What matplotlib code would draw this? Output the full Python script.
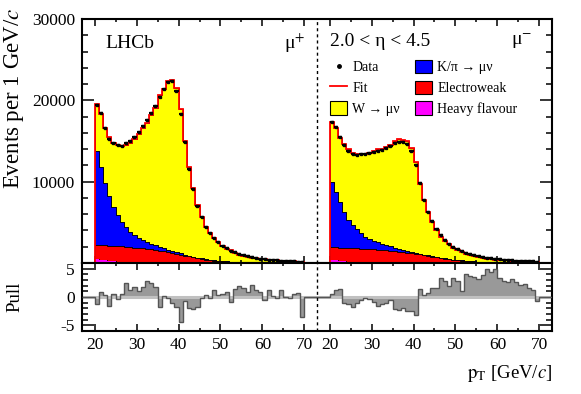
import numpy as np
import matplotlib
matplotlib.use("Agg")
import matplotlib.pyplot as plt
from matplotlib.patches import Patch
from matplotlib.lines import Line2D
from matplotlib.ticker import FixedLocator, FixedFormatter, MultipleLocator

plt.rcParams['font.family'] = ['Liberation Serif', 'DejaVu Serif']
plt.rcParams['mathtext.fontset'] = 'stix'

# pT bins 20..70 GeV/c, 1 GeV wide, for mu+ (left) and mu- (right)
edges = np.arange(20, 71)
offset = 56  # the mu- half is drawn shifted to the right

# ---- mu+ ----
data_p = [19400, 18400, 16600, 15250, 14800, 14450, 14400, 14800, 14950, 15450,
          16050, 16850, 17550, 18500, 19350, 20450, 21450, 22300, 22350, 21200,
          18300, 14900, 11600, 9050, 6950, 5600, 4450, 3650, 3100, 2600,
          2100, 1800, 1520, 1300, 1110, 950, 820, 710, 620, 540,
          470, 415, 365, 320, 285, 250, 225, 200, 180, 130]
w_p = [5780, 6430, 6750, 7250, 7830, 8600, 9250, 10060, 10950, 11780,
       12870, 13810, 14620, 15820, 16930, 18730, 19630, 20680, 21030, 20140,
       17720, 13950, 10910, 8490, 6440, 5060, 3950, 3270, 2710, 2320,
       1850, 1570, 1395, 1112, 929, 800, 706, 576, 522, 459,
       426, 342, 319, 284, 229, 218, 199, 166, 146, 148]
kpi_p = [11550, 9630, 7610, 6050, 4790, 3830, 3050, 2460, 1900, 1540,
         1200, 1000, 820, 680, 560, 460, 370, 300, 240, 190,
         150, 120, 95, 75, 60, 48, 38, 30, 24, 19,
         15, 12, 10, 8, 6, 5, 4, 4, 3, 3,
         3, 2, 2, 2, 2, 1, 1, 1, 1, 1]
ew_p = [1750, 1800, 1850, 1880, 1910, 1930, 1940, 1940, 1930, 1900,
        1850, 1800, 1740, 1670, 1600, 1520, 1440, 1350, 1250, 1140,
        1030, 920, 810, 700, 600, 510, 430, 360, 300, 250,
        210, 180, 150, 130, 110, 95, 85, 75, 65, 58,
        52, 47, 42, 38, 34, 31, 28, 25, 23, 21]
hf_p = [500, 420, 340, 270, 200, 140, 90, 50, 20, 0,
        0, 0, 0, 0, 0, 0, 0, 0, 0, 0,
        0, 0, 0, 0, 0, 0, 0, 0, 0, 0,
        0, 0, 0, 0, 0, 0, 0, 0, 0, 0,
        0, 0, 0, 0, 0, 0, 0, 0, 0, 0]
pull_p = [-1.3, 0.9, 0.4, -1.6, 0.55, -0.4, 0.55, 2.4, 1.2, 1.85,
          1.05, 1.85, 2.8, 2.4, 1.85, -1.85, 0.1, -0.2, -1.1, -1.85,
          -4.4, -0.7, -2.0, -2.2, -1.85, -0.2, 0.4, -0.2, 1.2, 0.3,
          0.55, 0.9, -0.9, 1.35, 2.0, 1.55, 0.9, 2.1, 1.2, 0.9,
          -0.5, 1.2, 0.1, -0.2, 1.2, 0.0, -0.2, 0.55, 0.75, -3.5]

# ---- mu- ----
data_m = [17380, 16770, 15540, 14510, 13810, 13370, 13280, 13370, 13400, 13490,
          13620, 13780, 13900, 14180, 14430, 14720, 14920, 14920, 14640, 13810,
          12050, 9880, 7750, 6310, 5200, 4140, 3440, 2850, 2380, 2000,
          1700, 1450, 1250, 1080, 940, 820, 720, 640, 570, 510,
          455, 410, 370, 335, 300, 270, 245, 220, 200, 170]
w_m = [7310, 7840, 7830, 8330, 8670, 8900, 9260, 9780, 10180, 10590,
       10970, 11440, 11700, 12110, 12450, 13090, 13450, 13530, 13440, 12710,
       11120, 8600, 6675, 5318, 4252, 3297, 2590, 2136, 1791, 1425,
       1218, 1100, 847, 739, 645, 576, 489, 409, 370, 316,
       314, 290, 266, 228, 210, 196, 173, 163, 154, 153]
kpi_m = [8070, 6860, 5650, 4440, 3440, 2850, 2350, 1890, 1510, 1240,
         1050, 880, 740, 620, 520, 430, 350, 280, 220, 170,
         130, 100, 80, 62, 48, 38, 30, 24, 19, 15,
         12, 10, 8, 6, 5, 4, 4, 3, 3, 3,
         2, 2, 2, 2, 2, 1, 1, 1, 1, 1]
ew_m = [1530, 1580, 1630, 1670, 1710, 1730, 1740, 1740, 1730, 1710,
        1690, 1650, 1610, 1570, 1520, 1470, 1410, 1350, 1280, 1210,
        1140, 1050, 960, 870, 780, 700, 620, 540, 470, 410,
        350, 300, 255, 215, 180, 150, 125, 105, 90, 78,
        68, 60, 53, 47, 42, 38, 34, 31, 28, 25]
hf_m = [400, 330, 260, 200, 140, 90, 50, 20, 0, 0,
        0, 0, 0, 0, 0, 0, 0, 0, 0, 0,
        0, 0, 0, 0, 0, 0, 0, 0, 0, 0,
        0, 0, 0, 0, 0, 0, 0, 0, 0, 0,
        0, 0, 0, 0, 0, 0, 0, 0, 0, 0]
pull_m = [0.55, 1.2, 1.35, -1.1, -1.3, -1.7, -1.0, -0.5, -0.2, -0.4,
          -0.8, -1.6, -1.3, -1.0, -0.5, -2.2, -2.35, -2.0, -2.5, -2.4,
          -3.1, 1.35, 0.4, 0.75, 1.65, 1.65, 3.4, 2.8, 2.0, 3.4,
          2.9, 1.05, 4.0, 3.7, 3.6, 3.2, 3.8, 4.9, 4.45, 4.9,
          3.4, 2.9, 2.6, 3.2, 2.7, 2.2, 2.3, 1.65, 1.2, -0.7]

tick_vals = [20, 30, 40, 50, 60, 70]
xlo, xhi = 17, 129

W, H = 581, 394
def box(l, t, r, b):
    return [l / W, 1 - b / H, (r - l) / W, (b - t) / H]

fig = plt.figure(figsize=(W / 100, H / 100), dpi=100)
ax = fig.add_axes(box(82, 19, 552, 263))
axp = fig.add_axes(box(82, 263, 552, 331), sharex=ax)

fits = []
for sh, w, kpi, ew, hf, d in [(0, w_p, kpi_p, ew_p, hf_p, data_p),
                              (offset, w_m, kpi_m, ew_m, hf_m, data_m)]:
    e = edges + sh
    c1 = np.array(hf, float)
    c2 = c1 + ew
    c3 = c2 + kpi
    c4 = c3 + w
    ax.stairs(c4, e, baseline=c3, fill=True, facecolor='#ffff00', edgecolor='k', lw=0.6, zorder=1)
    ax.stairs(c3, e, baseline=c2, fill=True, facecolor='#0000ff', edgecolor='k', lw=0.6, zorder=2)
    ax.stairs(c2, e, baseline=c1, fill=True, facecolor='#ff0000', edgecolor='k', lw=0.6, zorder=3)
    ax.stairs(c1, e, baseline=0, fill=True, facecolor='#ff00ff', edgecolor='none', zorder=4)
    fits.append(c4)
    ax.errorbar(e[:-1] + 0.5, d, xerr=0.5, fmt='s', ms=1.8, color='k',
                elinewidth=1.6, capsize=0, zorder=6)

# fit line over the full axis, zero outside the fitted ranges
all_edges = np.concatenate([[xlo], edges, edges + offset, [xhi]])
fit_all = np.concatenate([[0], fits[0], [0], fits[1], [0]])
ax.stairs(fit_all, all_edges, color='#ff0000', lw=1.3, zorder=5)

# pulls
pull_all = np.concatenate([[0], pull_p, [0], pull_m, [0]])
axp.axhline(0, color='#c0c0c0', lw=2.2, zorder=2)
axp.stairs(pull_p, edges, baseline=0, fill=True, facecolor='#999999', edgecolor='none', zorder=1)
axp.stairs(pull_m, edges + offset, baseline=0, fill=True, facecolor='#999999', edgecolor='none', zorder=1)
axp.stairs(pull_all, all_edges, color='#555555', lw=1.0, zorder=3)

for a in (ax, axp):
    a.axvline(73, color='k', ls=(0, (2.2, 2.2)), lw=1.0, zorder=7)
    a.set_xlim(xlo, xhi)
    for s in a.spines.values():
        s.set_linewidth(1.5)

major_x = tick_vals + [v + offset for v in tick_vals]
minor_x = [v + 5 for v in tick_vals[:-1]] + [v + 5 + offset for v in tick_vals[:-1]]
ax.xaxis.set_major_locator(FixedLocator(major_x))
ax.xaxis.set_minor_locator(FixedLocator(minor_x))
axp.xaxis.set_major_formatter(FixedFormatter([str(v) for v in tick_vals] * 2))

ax.set_ylim(0, 30000)
ax.yaxis.set_major_locator(FixedLocator([10000, 20000, 30000]))
ax.yaxis.set_minor_locator(MultipleLocator(2000))
axp.set_ylim(-6, 6)
axp.yaxis.set_major_locator(FixedLocator([-5, 0, 5]))
axp.yaxis.set_major_formatter(FixedFormatter(['-5', '0', '5']))
axp.yaxis.set_minor_locator(MultipleLocator(1))

for a in (ax, axp):
    a.tick_params(which='both', direction='in', top=True, right=True, width=1.1,
                  labelsize=12.5, pad=4)
    a.tick_params(axis='y', which='major', length=8.5)
    a.tick_params(axis='y', which='minor', length=4.5)
    a.tick_params(axis='x', which='major', length=5)
    a.tick_params(axis='x', which='minor', length=2.5)
ax.tick_params(axis='x', labelbottom=False)
ax.tick_params(axis='y', pad=5)
axp.tick_params(axis='y', pad=5)

def px(x, y):
    return x / W, 1 - y / H

fig.text(*px(14, 8), 'Events per 1 GeV/$c$', rotation=90, ha='center', va='top', fontsize=16.5)
fig.text(*px(15, 297), 'Pull', rotation=90, ha='center', va='center', fontsize=13.5)
fig.text(*px(552, 373), r'$\mathrm{p}_{\mathrm{T}}$ [GeV/$c$]', ha='right', va='center', fontsize=13.5)

fig.text(*px(105, 43), 'LHCb', ha='left', va='center', fontsize=14)
fig.text(*px(284, 43), 'μ$^{+}$', ha='left', va='center', fontsize=14)
fig.text(*px(330, 41), '2.0 < η < 4.5', ha='left', va='center', fontsize=14)
fig.text(*px(511, 41), 'μ$^{-}$', ha='left', va='center', fontsize=14)

handles = [
    Line2D([], [], marker='o', ms=2.5, color='k', ls='none'),
    Line2D([], [], color='#ff0000', lw=1.3),
    Patch(facecolor='#ffff00', edgecolor='k', lw=0.8),
    Patch(facecolor='#0000ff', edgecolor='k', lw=0.8),
    Patch(facecolor='#ff0000', edgecolor='k', lw=0.8),
    Patch(facecolor='#ff00ff', edgecolor='k', lw=0.8),
]
labels = ['Data', 'Fit', 'W → μν', 'K/π → μν', 'Electroweak', 'Heavy flavour']
fig.legend(handles, labels, ncol=2, loc='upper left', bbox_to_anchor=px(330, 60),
           frameon=False, fontsize=10, borderpad=0, handlelength=1.25, handleheight=1.1,
           handletextpad=0.35, labelspacing=0.45, columnspacing=1.1, borderaxespad=0)

fig.savefig('out.png', dpi=100)
